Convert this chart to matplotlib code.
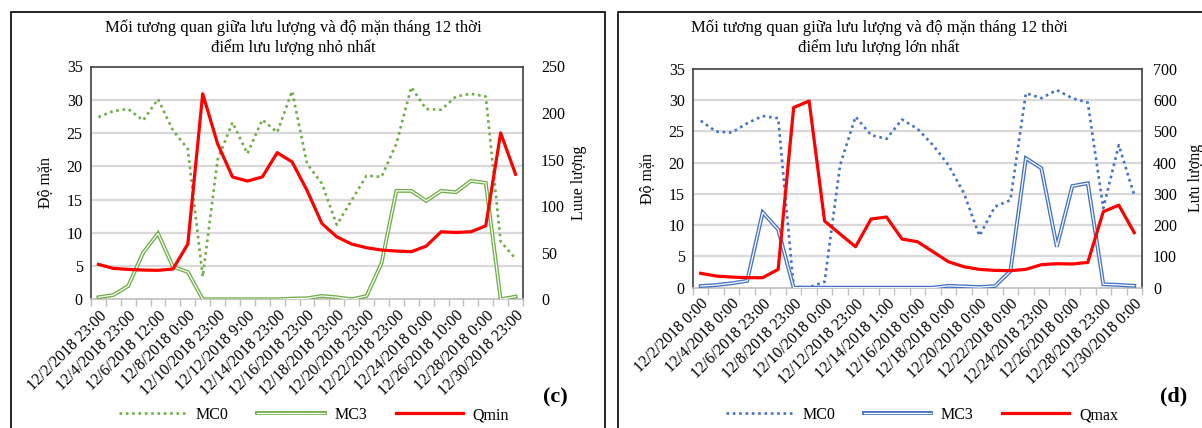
import numpy as np
import matplotlib
matplotlib.use("Agg")
import matplotlib.pyplot as plt
from matplotlib.lines import Line2D
from matplotlib.patches import Rectangle
from matplotlib.legend_handler import HandlerTuple

plt.rcParams['font.family'] = ['Liberation Serif', 'DejaVu Serif']

# ---------------- data ----------------
labels_c = ["12/2/2018 23:00", "12/4/2018 23:00", "12/6/2018 12:00", "12/8/2018 0:00",
            "12/10/2018 23:00", "12/12/2018 9:00", "12/14/2018 23:00", "12/16/2018 23:00",
            "12/18/2018 23:00", "12/20/2018 23:00", "12/22/2018 23:00", "12/24/2018 0:00",
            "12/26/2018 10:00", "12/28/2018 0:00", "12/30/2018 23:00"]
labels_d = ["12/2/2018 0:00", "12/4/2018 0:00", "12/6/2018 23:00", "12/8/2018 23:00",
            "12/10/2018 0:00", "12/12/2018 23:00", "12/14/2018 1:00", "12/16/2018 0:00",
            "12/18/2018 0:00", "12/20/2018 0:00", "12/22/2018 0:00", "12/24/2018 23:00",
            "12/26/2018 0:00", "12/28/2018 23:00", "12/30/2018 0:00"]

mc0_c = [27.4, 28.3, 28.6, 26.9, 30.1, 25.4, 22.6, 3.4, 21.0, 26.6, 21.9, 27.0, 25.1, 31.3,
         20.4, 17.4, 11.2, 14.9, 18.6, 18.4, 23.4, 31.9, 28.6, 28.5, 30.5, 30.9, 30.5, 8.7, 6.1]
mc3_c = [0.3, 0.65, 2.0, 7.0, 9.9, 4.9, 4.1, 0.0, 0.0, 0.0, 0.0, 0.0, 0.0, 0.1,
         0.15, 0.5, 0.3, 0.0, 0.5, 5.4, 16.3, 16.3, 14.8, 16.3, 16.1, 17.8, 17.5, 0.0, 0.4]
qmin = [37.5, 33.2, 32.1, 31.4, 31.1, 32.5, 59.3, 220.7, 167.0, 131.4, 127.0, 131.4, 157.5, 147.5,
        117.0, 81.4, 67.1, 59.3, 55.4, 52.9, 51.8, 51.1, 57.1, 72.5, 71.8, 72.5, 78.9, 178.6, 134.3]

mc0_d = [26.7, 24.95, 24.8, 26.3, 27.45, 27.1, 0.15, 0.05, 0.95, 19.6, 27.35, 24.4, 23.8, 26.9,
         25.4, 22.8, 19.6, 15.1, 8.3, 12.95, 14.0, 31.1, 30.3, 31.6, 30.3, 29.6, 12.7, 22.8, 14.8]
mc3_d = [0.27, 0.43, 0.7, 1.1, 12.05, 9.3, 0.0, 0.0, 0.0, 0.0, 0.0, 0.0, 0.0, 0.0,
         0.0, 0.0, 0.3, 0.2, 0.1, 0.25, 2.65, 20.7, 19.1, 6.55, 16.25, 16.7, 0.55, 0.45, 0.3]
qmax = [46, 37.3, 34, 32, 32, 58.6, 576, 597, 213, 171.6, 131, 219.6, 226, 155.6,
        147, 115, 83, 67, 58.6, 55.4, 54.4, 58.6, 73.6, 76.8, 75.7, 81, 243, 264, 176]

W, H = 1202, 428
fig = plt.figure(figsize=(W / 100, H / 100), dpi=100)

def fx(px):
    return px / W

def fy(py):
    return 1 - py / H

GRID = '#d9d9d9'
RED = '#ff0000'
GREEN = '#70ad47'
BLUE = '#4472c4'
FS = 11.5
TFS = 12


def panel(rect, mc0, mc3, q, qmax_axis, qstep, labels, color, ylab_r, rpad, rlabpad):
    l, t, r, b = rect
    ax = fig.add_axes([fx(l), fy(b), fx(r - l), (b - t) / H])
    n = len(mc0)
    x = np.arange(n)
    ax.set_xlim(-0.5, n - 0.5)
    ax.set_ylim(0, 35)
    ax.set_yticks(np.arange(0, 36, 5))
    for v in range(5, 35, 5):
        ax.axhline(v, color=GRID, lw=1.6, zorder=0)
    ax.plot(x, mc0, color=color, lw=1.9, ls=(0, (1, 1.4)), zorder=3)
    ax.plot(x, mc3, color=color, lw=2.8, solid_joinstyle='miter', zorder=3)
    ax.plot(x, mc3, color='white', lw=0.9, solid_joinstyle='miter', zorder=3)
    ax.set_xticks(np.arange(0, n, 2))
    ax.set_xticklabels(labels, rotation=45, ha='right', rotation_mode='anchor', fontsize=FS)
    ax.set_xticks(np.arange(-0.5, n, 1), minor=True)
    ax.tick_params(axis='x', which='major', length=0, pad=6)
    ax.tick_params(axis='x', which='minor', length=5, color='#bfbfbf', width=1)
    ax.tick_params(axis='y', length=0, labelsize=FS, pad=6)
    for s in ['left', 'top', 'right']:
        ax.spines[s].set_color('#404040')
        ax.spines[s].set_linewidth(1.2)
    ax.spines['bottom'].set_color('#bfbfbf')
    ax.spines['bottom'].set_linewidth(1.2)
    ax.set_ylabel('Độ mặn', fontsize=FS, labelpad=10)

    ax2 = ax.twinx()
    ax2.set_ylim(0, qmax_axis)
    ax2.set_yticks(np.arange(0, qmax_axis + 1, qstep))
    ax2.plot(x, q, color=RED, lw=2.3, zorder=4)
    ax2.tick_params(axis='y', length=0, labelsize=FS, pad=rpad)
    for s in ax2.spines.values():
        s.set_visible(False)
    ax2.set_ylabel(ylab_r, fontsize=FS, rotation=90, labelpad=rlabpad)
    return ax, ax2


ax_c, ax_c2 = panel((91, 66.5, 523, 299.3), mc0_c, mc3_c, qmin, 250, 50, labels_c, GREEN,
                    'Luue lượng', 13, 4)
ax_d, ax_d2 = panel((693, 68.8, 1142, 287.7), mc0_d, mc3_d, qmax, 700, 100, labels_d, BLUE,
                    'Lưu lượng', 8, 8)

# frames
fig.patches.append(Rectangle((fx(11), fy(440)), fx(605 - 11), (440 - 12) / H, fill=False,
                             edgecolor='black', lw=1.2, transform=fig.transFigure, zorder=0))
fig.patches.append(Rectangle((fx(618), fy(440)), fx(1220 - 618), (440 - 12) / H, fill=False,
                             edgecolor='black', lw=1.2, transform=fig.transFigure, zorder=0))

# titles
fig.text(fx(293), fy(28), 'Mối tương quan giữa lưu lượng và độ mặn tháng 12 thời',
         ha='center', va='center', fontsize=TFS)
fig.text(fx(293), fy(48), 'điểm lưu lượng nhỏ nhất', ha='center', va='center', fontsize=TFS)
fig.text(fx(879), fy(28), 'Mối tương quan giữa lưu lượng và độ mặn tháng 12 thời',
         ha='center', va='center', fontsize=TFS)
fig.text(fx(879), fy(48), 'điểm lưu lượng lớn nhất', ha='center', va='center', fontsize=TFS)

# panel letters
fig.text(fx(555), fy(397), '(c)', ha='center', va='center', fontsize=16, fontweight='bold')
fig.text(fx(1174), fy(396), '(d)', ha='center', va='center', fontsize=16, fontweight='bold')


def legend(center_x, color, qname):
    h0 = Line2D([], [], color=color, lw=1.9, ls=(0, (1, 1.4)))
    h3a = Line2D([], [], color=color, lw=2.8)
    h3b = Line2D([], [], color='white', lw=0.9)
    hq = Line2D([], [], color=RED, lw=2.3)
    fig.legend([h0, (h3a, h3b), hq], ['MC0', 'MC3', qname], ncol=3,
               loc='center', bbox_to_anchor=(fx(center_x), fy(415)), frameon=False,
               fontsize=FS, handlelength=4.2, handletextpad=0.6, columnspacing=1.8,
               handler_map={tuple: HandlerTuple(ndivide=1, pad=0)})

legend(314, GREEN, 'Qmin')
legend(922, BLUE, 'Qmax')

fig.savefig('out.png', dpi=100)
